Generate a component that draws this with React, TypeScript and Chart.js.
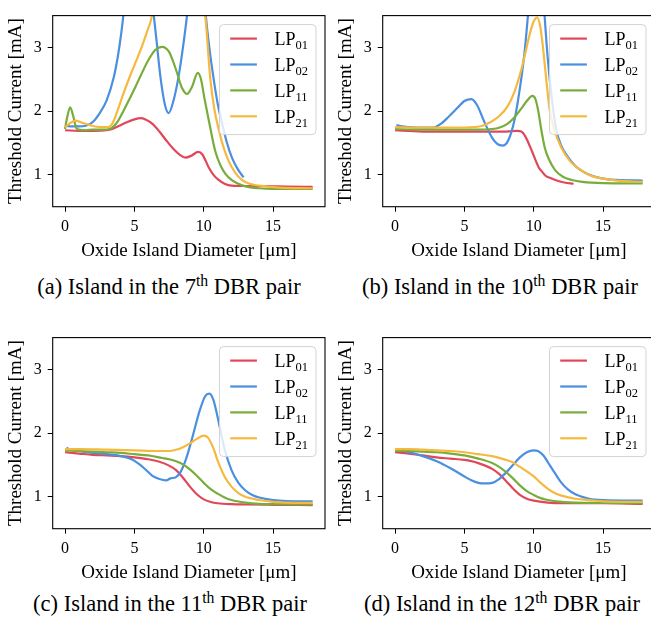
import React, { useEffect, useRef } from 'react';
import { Chart, registerables } from 'chart.js';
Chart.register(...registerables);

const FONT = "'Liberation Serif', 'Times New Roman', serif";

const X_TICKS = [0, 5, 10, 15];
const Y_TICKS = [1, 2, 3];
const X_MIN = -0.89;
const X_MAX = 18.74;
const Y_MIN = 0.5;
const Y_MAX = 3.5;
const X_TITLE = 'Oxide Island Diameter [μm]';
const Y_TITLE = 'Threshold Current [mA]';

const MODES = ['01', '02', '11', '21'];
const COLORS = ['#e0485a', '#4a8fe0', '#78ad3c', '#f6b93f'];

type Pt = [number, number];

// (a) 7th DBR pair
const A_LP01: Pt[] = [[0, 1.7], [1, 1.69], [2, 1.69], [3, 1.7], [3.4, 1.72], [4, 1.78], [4.5, 1.83], [5, 1.87], [5.43, 1.89], [5.8, 1.87], [6.3, 1.8], [6.8, 1.68], [7.3, 1.54], [7.8, 1.41], [8.3, 1.31], [8.67, 1.27], [9.1, 1.3], [9.6, 1.36], [9.9, 1.32], [10.35, 1.12], [10.7, 1.0], [11.07, 0.92], [11.5, 0.86], [12, 0.83], [13, 0.825], [14, 0.825], [15, 0.82], [16, 0.815], [17.85, 0.81]];
const A_LP02: Pt[] = [[0.1, 1.77], [0.5, 1.76], [1, 1.76], [1.5, 1.77], [2, 1.83], [2.5, 1.97], [3, 2.17], [3.5, 2.52], [3.8, 2.85], [4.05, 3.22], [4.2, 3.5], [4.5, 4.3], [5.2, 5.5], [5.8, 5.0], [6.1, 4.2], [6.4, 3.5], [6.6, 3.1], [6.87, 2.55], [7.2, 2.1], [7.47, 1.97], [7.8, 2.15], [8.19, 2.55], [8.5, 3.0], [8.79, 3.5], [9.2, 4.4], [9.7, 4.8], [9.95, 4.1], [10.15, 3.5], [10.4, 3.0], [10.71, 2.51], [11.0, 2.12], [11.31, 1.82], [11.65, 1.52], [12.03, 1.27], [12.45, 1.09], [12.87, 0.96]];
const A_LP11: Pt[] = [[0, 1.72], [0.15, 1.9], [0.37, 2.06], [0.57, 1.94], [0.8, 1.74], [1.0, 1.71], [1.5, 1.7], [2, 1.71], [3, 1.71], [3.4, 1.74], [3.8, 1.84], [4.2, 2.0], [4.6, 2.17], [5.07, 2.38], [5.5, 2.58], [6, 2.8], [6.5, 2.96], [7, 3.01], [7.5, 2.93], [8, 2.65], [8.4, 2.38], [8.8, 2.27], [9.15, 2.38], [9.57, 2.6], [9.8, 2.5], [10.05, 2.2], [10.35, 1.87], [10.83, 1.37], [11.2, 1.15], [11.55, 1.02], [12, 0.92], [12.5, 0.86], [13, 0.82], [14, 0.79], [15, 0.78], [17.85, 0.78]];
const A_LP21: Pt[] = [[0, 1.75], [0.3, 1.8], [0.74, 1.85], [1.2, 1.82], [1.8, 1.78], [2.5, 1.75], [3.1, 1.75], [3.45, 1.82], [3.77, 2.0], [4.2, 2.27], [4.7, 2.56], [5.15, 2.8], [5.55, 3.02], [5.9, 3.24], [6.27, 3.5], [6.8, 4.3], [7.5, 5.2], [8.5, 5.5], [9.3, 4.8], [9.8, 3.95], [10.13, 3.45], [10.47, 2.51], [10.75, 2.05], [11.07, 1.72], [11.4, 1.45], [11.79, 1.22], [12.25, 1.04], [12.75, 0.92], [13.3, 0.86], [14.5, 0.82], [15.5, 0.8], [17.85, 0.79]];

// (b) 10th DBR pair
const B_LP01: Pt[] = [[0, 1.7], [1, 1.69], [2, 1.68], [4, 1.68], [6, 1.68], [8, 1.68], [8.8, 1.69], [9.1, 1.68], [9.4, 1.6], [9.87, 1.37], [10.35, 1.12], [10.6, 1.05], [10.83, 0.99], [11.2, 0.95], [11.55, 0.92], [12.2, 0.88], [12.87, 0.86]];
const B_LP02: Pt[] = [[0.1, 1.78], [0.5, 1.76], [1, 1.75], [2, 1.74], [2.7, 1.74], [3.3, 1.8], [3.9, 1.92], [4.54, 2.06], [5, 2.16], [5.5, 2.19], [5.9, 2.1], [6.46, 1.82], [7, 1.58], [7.4, 1.48], [7.78, 1.46], [8.2, 1.56], [8.62, 1.87], [8.85, 2.15], [9.1, 2.51], [9.35, 2.95], [9.58, 3.5], [9.9, 4.3], [10.3, 4.6], [10.6, 4.1], [10.78, 3.5], [11.0, 2.85], [11.3, 2.2], [11.63, 1.7], [12.0, 1.45], [12.47, 1.28], [13, 1.14], [13.42, 1.07], [14, 1.0], [15, 0.94], [16, 0.92], [17.85, 0.91]];
const B_LP11: Pt[] = [[0, 1.72], [2, 1.71], [4, 1.71], [6, 1.71], [7, 1.72], [7.5, 1.74], [8.1, 1.8], [8.6, 1.9], [9.1, 2.04], [9.5, 2.16], [9.9, 2.24], [10.1, 2.2], [10.3, 2.03], [10.55, 1.7], [10.8, 1.42], [11.1, 1.24], [11.55, 1.07], [12.1, 0.97], [12.75, 0.92], [13.5, 0.89], [15, 0.87], [17.85, 0.865]];
const B_LP21: Pt[] = [[0, 1.75], [2, 1.74], [4, 1.74], [5.7, 1.75], [6.3, 1.77], [6.9, 1.83], [7.5, 1.92], [8.1, 2.07], [8.6, 2.3], [9.1, 2.65], [9.4, 2.92], [9.7, 3.2], [10.0, 3.41], [10.25, 3.47], [10.45, 3.35], [10.66, 3.01], [10.9, 2.5], [11.14, 2.03], [11.5, 1.7], [11.98, 1.43], [12.6, 1.22], [13.42, 1.07], [14.2, 0.98], [15, 0.94], [16, 0.91], [17.85, 0.89]];

// (c) 11th DBR pair
const C_LP01: Pt[] = [[0, 1.7], [1, 1.68], [2, 1.66], [3, 1.65], [4, 1.64], [5, 1.62], [6, 1.59], [6.8, 1.55], [7.5, 1.49], [8, 1.42], [8.5, 1.3], [9, 1.16], [9.5, 1.04], [10, 0.96], [10.5, 0.92], [11, 0.9], [12, 0.885], [13, 0.88], [15, 0.875], [17.85, 0.87]];
const C_LP02: Pt[] = [[0.1, 1.77], [0.4, 1.74], [1, 1.72], [2, 1.69], [3, 1.67], [4, 1.64], [4.8, 1.59], [5.3, 1.52], [5.8, 1.43], [6.3, 1.33], [6.8, 1.28], [7.3, 1.26], [7.6, 1.29], [8, 1.31], [8.3, 1.38], [8.7, 1.58], [9.2, 1.95], [9.7, 2.35], [10.1, 2.58], [10.4, 2.62], [10.7, 2.52], [11, 2.25], [11.5, 1.75], [12, 1.42], [12.5, 1.22], [13, 1.1], [13.5, 1.03], [14, 0.99], [15, 0.95], [16, 0.935], [17.85, 0.93]];
const C_LP11: Pt[] = [[0, 1.73], [1, 1.72], [2, 1.71], [3, 1.7], [4, 1.69], [5, 1.67], [6, 1.65], [7, 1.61], [7.5, 1.59], [8, 1.56], [8.5, 1.51], [9, 1.43], [9.5, 1.33], [10, 1.22], [10.5, 1.12], [11, 1.05], [11.5, 0.99], [12, 0.95], [13, 0.91], [14, 0.89], [15, 0.885], [17.85, 0.88]];
const C_LP21: Pt[] = [[0, 1.75], [1, 1.75], [3, 1.74], [5, 1.73], [6.5, 1.72], [7.5, 1.72], [8, 1.74], [8.5, 1.78], [9, 1.84], [9.5, 1.91], [10, 1.96], [10.3, 1.93], [10.7, 1.76], [11, 1.57], [11.5, 1.32], [12, 1.16], [12.5, 1.06], [13, 1.0], [14, 0.95], [15, 0.92], [16, 0.91], [17.85, 0.905]];

// (d) 12th DBR pair
const D_LP01: Pt[] = [[0, 1.7], [1, 1.68], [2, 1.65], [3, 1.62], [4, 1.6], [5, 1.58], [5.5, 1.56], [6, 1.53], [6.5, 1.49], [7, 1.44], [7.5, 1.36], [8, 1.25], [8.5, 1.13], [9, 1.03], [9.5, 0.97], [10, 0.94], [11, 0.91], [12, 0.9], [15, 0.9], [17.85, 0.89]];
const D_LP02: Pt[] = [[0.1, 1.75], [1, 1.7], [2, 1.64], [3, 1.56], [4, 1.45], [5, 1.32], [5.5, 1.26], [6, 1.22], [6.5, 1.21], [7, 1.22], [7.5, 1.28], [8, 1.38], [8.5, 1.5], [9, 1.62], [9.5, 1.7], [10, 1.73], [10.3, 1.72], [10.7, 1.65], [11, 1.55], [11.5, 1.38], [12, 1.22], [12.5, 1.11], [13, 1.04], [13.5, 1.0], [14, 0.97], [15, 0.95], [17.85, 0.94]];
const D_LP11: Pt[] = [[0, 1.72], [1, 1.72], [2, 1.71], [3, 1.7], [4, 1.68], [5, 1.65], [6, 1.6], [7, 1.53], [7.5, 1.47], [8, 1.39], [8.5, 1.29], [9, 1.18], [9.5, 1.09], [10, 1.03], [10.5, 0.98], [11, 0.95], [12, 0.92], [13, 0.91], [15, 0.905], [17.85, 0.9]];
const D_LP21: Pt[] = [[0, 1.75], [1, 1.75], [2, 1.74], [3, 1.73], [4, 1.72], [5, 1.7], [6, 1.67], [7, 1.64], [8, 1.58], [8.5, 1.54], [9, 1.47], [9.5, 1.4], [10, 1.32], [10.5, 1.22], [11, 1.13], [11.5, 1.06], [12, 1.02], [13, 0.97], [14, 0.95], [15, 0.93], [17.85, 0.92]];

const CAPTION_LETTERS = ['(a)', '(b)', '(c)', '(d)'];
const CAPTION_PAIRS = ['7', '10', '11', '12'];

const CANVAS_W = 330;
const CANVAS_H = 262;

const boxPlugin = {
  id: 'axesBox',
  afterDatasetsDraw(chart: any) {
    const { ctx, chartArea: a } = chart;
    ctx.save();
    ctx.strokeStyle = '#000';
    ctx.lineWidth = 1.1;
    ctx.strokeRect(a.left, a.top, a.right - a.left, a.bottom - a.top);
    ctx.restore();
  },
};

const legendPlugin = {
  id: 'modeLegend',
  afterDraw(chart: any) {
    const { ctx, chartArea: a } = chart;
    const bw = 96.5;
    const bh = 110;
    const bx = a.right - 9 - bw;
    const by = a.top + 9;
    const r = 4;
    ctx.save();
    ctx.beginPath();
    ctx.moveTo(bx + r, by);
    ctx.lineTo(bx + bw - r, by);
    ctx.quadraticCurveTo(bx + bw, by, bx + bw, by + r);
    ctx.lineTo(bx + bw, by + bh - r);
    ctx.quadraticCurveTo(bx + bw, by + bh, bx + bw - r, by + bh);
    ctx.lineTo(bx + r, by + bh);
    ctx.quadraticCurveTo(bx, by + bh, bx, by + bh - r);
    ctx.lineTo(bx, by + r);
    ctx.quadraticCurveTo(bx, by, bx + r, by);
    ctx.closePath();
    ctx.fillStyle = 'rgba(255,255,255,0.8)';
    ctx.fill();
    ctx.strokeStyle = '#d3d3d3';
    ctx.lineWidth = 1;
    ctx.stroke();
    chart.data.datasets.forEach((ds: any, i: number) => {
      const ly = by + 14 + i * 25.9;
      ctx.beginPath();
      ctx.moveTo(bx + 10.7, ly);
      ctx.lineTo(bx + 37.4, ly);
      ctx.strokeStyle = ds.borderColor;
      ctx.lineWidth = 2.2;
      ctx.stroke();
      ctx.fillStyle = '#000';
      ctx.textBaseline = 'alphabetic';
      ctx.textAlign = 'left';
      ctx.font = `18px ${FONT}`;
      const main = 'LP';
      ctx.fillText(main, bx + 55, ly + 6.8);
      const w = ctx.measureText(main).width;
      ctx.font = `12.5px ${FONT}`;
      ctx.fillText(ds.label.slice(2), bx + 55 + w, ly + 10.2);
    });
    ctx.restore();
  },
};

function Panel(props: { left: number; top: number; series: Pt[][] }) {
  const ref = useRef<HTMLCanvasElement>(null);
  useEffect(() => {
    const chart = new Chart(ref.current as HTMLCanvasElement, {
      type: 'line',
      data: {
        datasets: props.series.map((s, i) => ({
          label: 'LP' + MODES[i],
          data: s.map(([x, y]) => ({ x, y })),
          borderColor: COLORS[i],
          backgroundColor: COLORS[i],
          borderWidth: 2.2,
          pointRadius: 0,
          fill: false,
          cubicInterpolationMode: 'monotone',
          order: 4 - i,
          clip: 0,
        })),
      },
      options: {
        responsive: false,
        animation: false,
        devicePixelRatio: 1,
        layout: { padding: { left: 0, top: 5.3, right: 5, bottom: 1.6 } },
        plugins: { legend: { display: false }, tooltip: { enabled: false } },
        scales: {
          x: {
            type: 'linear',
            min: X_MIN,
            max: X_MAX,
            afterBuildTicks: (s: any) => {
              s.ticks = X_TICKS.map((v) => ({ value: v }));
            },
            afterFit: (s: any) => {
              s.height = 53.7;
            },
            grid: { drawOnChartArea: false, drawTicks: true, tickLength: 5, tickColor: '#000', tickWidth: 1 },
            border: { display: false },
            ticks: { color: '#000', padding: 5, maxRotation: 0, font: { family: FONT, size: 16 } },
            title: {
              display: true,
              text: X_TITLE,
              color: '#000',
              font: { family: FONT, size: 19, lineHeight: 1 },
              padding: { top: 0, bottom: 0 },
            },
          },
          y: {
            type: 'linear',
            min: Y_MIN,
            max: Y_MAX,
            afterBuildTicks: (s: any) => {
              s.ticks = Y_TICKS.map((v) => ({ value: v }));
            },
            afterFit: (s: any) => {
              s.width = 52.7;
            },
            grid: { drawOnChartArea: false, drawTicks: true, tickLength: 5, tickColor: '#000', tickWidth: 1 },
            border: { display: false },
            ticks: { color: '#000', padding: 6, font: { family: FONT, size: 16 } },
            title: {
              display: true,
              text: Y_TITLE,
              color: '#000',
              font: { family: FONT, size: 19, lineHeight: 1 },
              padding: { top: 6.4, bottom: 0 },
            },
          },
        },
      },
      plugins: [boxPlugin, legendPlugin],
    } as any);
    return () => chart.destroy();
  }, []);
  return (
    <canvas
      ref={ref}
      width={CANVAS_W}
      height={CANVAS_H}
      style={{ position: 'absolute', left: props.left, top: props.top, width: CANVAS_W, height: CANVAS_H }}
    />
  );
}

function Caption(props: { center: number; top: number; idx: number }) {
  return (
    <div
      style={{
        position: 'absolute',
        left: props.center - 160,
        top: props.top,
        width: 320,
        textAlign: 'center',
        fontFamily: FONT,
        fontSize: 22.5,
        lineHeight: '26px',
        whiteSpace: 'nowrap',
        color: '#000',
      }}
    >
      {CAPTION_LETTERS[props.idx]} Island in the {CAPTION_PAIRS[props.idx]}
      <sup style={{ fontSize: '0.7em', verticalAlign: 'baseline', position: 'relative', top: '-0.5em' }}>th</sup> DBR pair
    </div>
  );
}

export default function App() {
  return (
    <div
      style={{
        position: 'fixed',
        left: 0,
        top: 0,
        width: 651,
        height: 623,
        overflow: 'hidden',
        background: '#fff',
      }}
    >
      <Panel left={0} top={0} series={[A_LP01, A_LP02, A_LP11, A_LP21]} />
      <Panel left={330} top={0} series={[B_LP01, B_LP02, B_LP11, B_LP21]} />
      <Panel left={0} top={322} series={[C_LP01, C_LP02, C_LP11, C_LP21]} />
      <Panel left={330} top={322} series={[D_LP01, D_LP02, D_LP11, D_LP21]} />
      <Caption center={169} top={274} idx={0} />
      <Caption center={500} top={274} idx={1} />
      <Caption center={170} top={591} idx={2} />
      <Caption center={502} top={591} idx={3} />
    </div>
  );
}
